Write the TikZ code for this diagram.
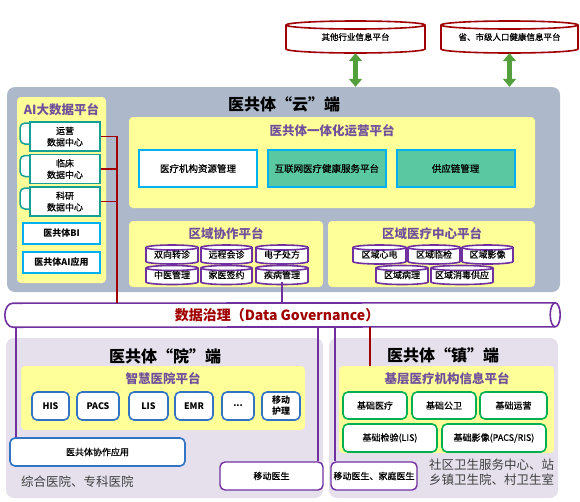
\documentclass[tikz,border=0pt]{standalone}
\usepackage{fontspec}
\setmainfont{Noto Sans CJK SC}
\newfontfamily\medfont{Noto Sans CJK SC}[FakeBold=0.6]
\usetikzlibrary{positioning,arrows.meta}

\definecolor{cloudgray}{RGB}{173,185,202}
\definecolor{paleyellow}{RGB}{255,255,153}
\definecolor{lavender}{RGB}{229,224,236}
\definecolor{titlepurple}{RGB}{112,80,155}
\definecolor{canpurple}{RGB}{112,48,160}
\definecolor{govred}{RGB}{160,0,0}
\definecolor{dcteal}{RGB}{20,160,150}
\definecolor{cyanline}{RGB}{0,176,240}
\definecolor{mint}{RGB}{90,200,160}
\definecolor{hospblue}{RGB}{50,115,195}
\definecolor{basegreen}{RGB}{0,176,80}
\definecolor{arrowgreen}{RGB}{84,160,60}
\definecolor{sitegray}{RGB}{64,64,64}

\tikzset{
	pics/drum/.style n args={4}{code={
	 \filldraw [fill=white, line width=1.6pt] (-#1pt/2,-#2pt/2) arc [start angle=180, end angle=360, x radius=#1pt/2, y radius=#3pt] -- (#1pt/2,#2pt/2) arc [start angle=0, end angle=180, x radius=#1pt/2, y radius=#3pt] -- cycle;
	 \draw [line width=1.6pt] (-#1pt/2,#2pt/2) arc [start angle=180, end angle=360, x radius=#1pt/2, y radius=#3pt];
	 \node (-box) [inner sep=0pt, text=black, minimum width=#1pt, minimum height=#2pt] {#4};
	 }}}
\tikzset{
	area/.style={inner sep=0pt, rounded corners=4pt},
	bigtitle/.style={font=\bfseries\fontsize{16}{18}\selectfont, inner sep=0pt},
	ptitle/.style={font=\bfseries\fontsize{12.5}{14}\selectfont, text=titlepurple, inner sep=0pt},
	drumfont/.style={font=\medfont\fontsize{9}{11}\selectfont},
	dcbox/.style={draw=dcteal, fill=white, line width=1.5pt, minimum width=70pt, minimum height=29pt, align=center, inner sep=0pt, font=\medfont\fontsize{9}{11.5}\selectfont},
	dctab/.style={draw=dcteal, fill=white, line width=1.5pt, rounded corners=5pt},
	aibox/.style={draw=cyanline, fill=white, line width=1.5pt, minimum width=77pt, minimum height=21pt, inner sep=0pt, font=\bfseries\fontsize{9}{11}\selectfont},
	opbox/.style={draw=cyanline, fill=white, line width=1.8pt, minimum width=118pt, minimum height=37pt, inner sep=0pt, font=\medfont\fontsize{9.5}{11}\selectfont},
	hisbox/.style={draw=hospblue, fill=white, line width=1.6pt, rounded corners=5pt, minimum height=28pt, inner sep=0pt, align=center, font=\bfseries\fontsize{9}{11}\selectfont},
	basebox/.style={draw=basegreen, fill=white, line width=1.6pt, rounded corners=5pt, inner sep=0pt, font=\medfont\fontsize{9}{11}\selectfont},
	docbox/.style={draw=canpurple, fill=white, line width=1.4pt, rounded corners=5pt, minimum height=28pt, inner sep=0pt, font=\medfont\fontsize{9}{11}\selectfont},
	sitetext/.style={inner sep=0pt, text=sitegray, font=\fontsize{12.5}{15}\selectfont, align=left},
	govline/.style={draw=canpurple, line width=1.6pt},
	redline/.style={draw=govred, line width=1.6pt},
	link/.style={line width=5pt, draw=arrowgreen, {Triangle[width=13pt,length=8pt]}-{Triangle[width=13pt,length=8pt]}}
}

\begin{document}
\begin{tikzpicture}[x=1pt, y=-1pt]
\useasboundingbox (0,0) rectangle (580,501);

% NODES
% outside platforms
\pic (qthy) [color=govred, font=\medfont\fontsize{8.5}{10}\selectfont] at (355.5,37) {drum={139}{24}{4}{其他行业信息平台}};
\pic (rkjk) [color=govred, font=\medfont\fontsize{8.5}{10}\selectfont] at (509.5,37) {drum={137}{24}{4}{省、市级人口健康信息平台}};

% cloud
\node (cloud) [area, fill=cloudgray, rounded corners=8pt, minimum width=553pt, minimum height=205pt] at (283.5,189.5) {};
\node (cloudtitle) [bigtitle] at (284,104) {医共体“云”端};

% AI big data
\node (aipanel) [area, fill=paleyellow, minimum width=89pt, minimum height=186pt] at (61.5,190) {};
\node (aititle) [ptitle] at (61.5,110) {AI大数据平台};
\foreach \y in {136.5,169,201.5}
	\draw [dctab] (20,\y-13.5) rectangle (40,\y+7.5);
\node (dcyy) [dcbox] at (65,136.5) {运营\\数据中心};
\node (dclc) [dcbox, below=2pt of dcyy] {临床\\数据中心};
\node (dcky) [dcbox, below=2pt of dclc] {科研\\数据中心};
\node (bi) [aibox] at (61.5,233.5) {医共体BI};
\node (aiyy) [aibox, below=6.5pt of bi] {医共体AI应用};

% operation platform
\node (ythpanel) [area, fill=paleyellow, minimum width=406pt, minimum height=91pt] at (332,162.5) {};
\node (ythtitle) [ptitle] at (332,131) {医共体一体化运营平台};
\node (jgzy) [opbox] at (198,168.5) {医疗机构资源管理};
\node (hlw) [opbox, fill=mint, right=9pt of jgzy] {互联网医疗健康服务平台};
\node (gyl) [opbox, fill=mint, right=9pt of hlw] {供应链管理};

% regional collaboration
\node (xzpanel) [area, fill=paleyellow, minimum width=194pt, minimum height=66pt] at (226,254) {};
\node (xztitle) [ptitle] at (226,234) {区域协作平台};
\pic (sxzz) [color=canpurple, drumfont] at (172,254.5) {drum={52}{14}{2.5}{双向转诊}};
\pic (ychz) [color=canpurple, drumfont] at (226.5,254.5) {drum={51}{14}{2.5}{远程会诊}};
\pic (dzcf) [color=canpurple, drumfont] at (282,254.5) {drum={52}{14}{2.5}{电子处方}};
\pic (zygl) [color=canpurple, drumfont] at (172,275) {drum={52}{14}{2.5}{中医管理}};
\pic (jyqy) [color=canpurple, drumfont] at (226.5,275) {drum={51}{14}{2.5}{家医签约}};
\pic (jbgl) [color=canpurple, drumfont] at (282,275) {drum={52}{14}{2.5}{疾病管理}};

% regional medical centers
\node (ylpanel) [area, fill=paleyellow, minimum width=207pt, minimum height=66pt] at (431.5,254) {};
\node (yltitle) [ptitle] at (432,234) {区域医疗中心平台};
\pic (qyxd) [color=canpurple, drumfont] at (379.5,254.5) {drum={53}{14}{2.5}{区域心电}};
\pic (qylj) [color=canpurple, drumfont] at (434,254.5) {drum={52}{14}{2.5}{区域临检}};
\pic (qyyx) [color=canpurple, drumfont] at (487.5,254.5) {drum={51}{14}{2.5}{区域影像}};
\pic (qybl) [color=canpurple, drumfont] at (402,275) {drum={52}{14}{2.5}{区域病理}};
\pic (qyxdgy) [color=canpurple, drumfont] at (462,275) {drum={62}{14}{2.5}{区域消毒供应}};

% data governance pipe
\node (gov) [inner sep=0pt, minimum width=542pt, minimum height=24pt] at (284,315) {};
\draw [govline] (gov.north east) arc [start angle=90, end angle=-90, x radius=5pt, y radius=12pt] -- (gov.south west) arc [start angle=270, end angle=90, x radius=8pt, y radius=12pt] -- cycle;
\draw [govline] (gov.north east) arc [start angle=90, end angle=270, x radius=5pt, y radius=12pt];
\node (govlabel) [font=\bfseries\fontsize{14}{16}\selectfont, text=govred, inner sep=0pt] at (277,315) {数据治理（Data Governance）};

% hospital side
\node (yuan) [area, fill=lavender, rounded corners=8pt, minimum width=317pt, minimum height=160pt] at (164.5,418) {};
\node (yuantitle) [bigtitle] at (165,356) {医共体“院”端};
\node (zhpanel) [area, fill=paleyellow, minimum width=284pt, minimum height=64pt] at (163,398) {};
\node (zhtitle) [ptitle] at (163,379) {智慧医院平台};
\node (his) [hisbox, minimum width=37pt] at (50.5,406) {HIS};
\node (pacs) [hisbox, minimum width=42pt] at (98,406) {PACS};
\node (lis) [hisbox, minimum width=39pt] at (148.5,406) {LIS};
\node (emr) [hisbox, minimum width=38pt] at (194,406) {EMR};
\node (more) [hisbox, minimum width=32pt] at (238,406) {...};
\node (ydhl) [hisbox, minimum width=38pt] at (281,406) {移动\\护理};
\node (xtyy) [hisbox, minimum width=175pt, font=\medfont\fontsize{9}{11}\selectfont] at (97.5,452) {医共体协作应用};
\node (ydys) [docbox, minimum width=103pt] at (271.5,476) {移动医生};
\node (zhyy) [sitetext, anchor=west] at (21,482) {综合医院、专科医院};

% town side
\node (zhen) [area, fill=lavender, rounded corners=8pt, minimum width=229pt, minimum height=160pt] at (443.5,418) {};
\node (zhentitle) [bigtitle] at (443,355) {医共体“镇”端};
\node (jcpanel) [area, fill=paleyellow, minimum width=215pt, minimum height=87pt] at (446.5,409.5) {};
\node (jctitle) [ptitle] at (447,379) {基层医疗机构信息平台};
\node (jcyl) [basebox, minimum width=64pt, minimum height=27pt] at (375,405.5) {基础医疗};
\node (jcgw) [basebox, minimum width=64pt, minimum height=27pt] at (444,405.5) {基础公卫};
\node (jcyy) [basebox, minimum width=67pt, minimum height=27pt] at (513.5,405.5) {基础运营};
\node (jcjy) [basebox, minimum width=94pt, minimum height=28pt] at (390,438) {基础检验(LIS)};
\node (jcyx) [basebox, minimum width=104pt, minimum height=28pt] at (494,438) {基础影像(PACS/RIS)};
\node (jtys) [docbox, minimum width=86pt] at (374,476) {移动医生、家庭医生};
\node (sqws) [sitetext, anchor=west] at (429,472.5) {社区卫生服务中心、站\\乡镇卫生院、村卫生室};

% CONNECTIONS
\draw [link, shorten <=4pt] (qthy-box.south) -- (qthy-box.south |- cloud.north);
\draw [link, shorten <=4pt] (rkjk-box.south) -- (rkjk-box.south |- cloud.north);
\coordinate (aibus) at (117,303);
\draw [redline] (dcyy.east) -| (aibus);
\draw [redline] (dclc.east) -- (dclc.east -| aibus);
\draw [redline] (dcky.east) -- (dcky.east -| aibus);
\draw [govline] (jbgl-box.south) -- (jbgl-box.south |- gov.north);
\coordinate (yuanleft) at (16,327);
\coordinate (yuanright) at (318,327);
\coordinate (zhenleft) at (335,327);
\coordinate (zhenred) at (370,327);
\draw [govline] (yuanleft) -- (yuanleft |- xtyy.north);
\draw [govline] (yuanright) -- (yuanright |- ydys.north);
\draw [govline] (zhenleft) -- (zhenleft |- jtys.north);
\draw [redline] (zhenred) -- (zhenred |- jcpanel.north);

\end{tikzpicture}
\end{document}
